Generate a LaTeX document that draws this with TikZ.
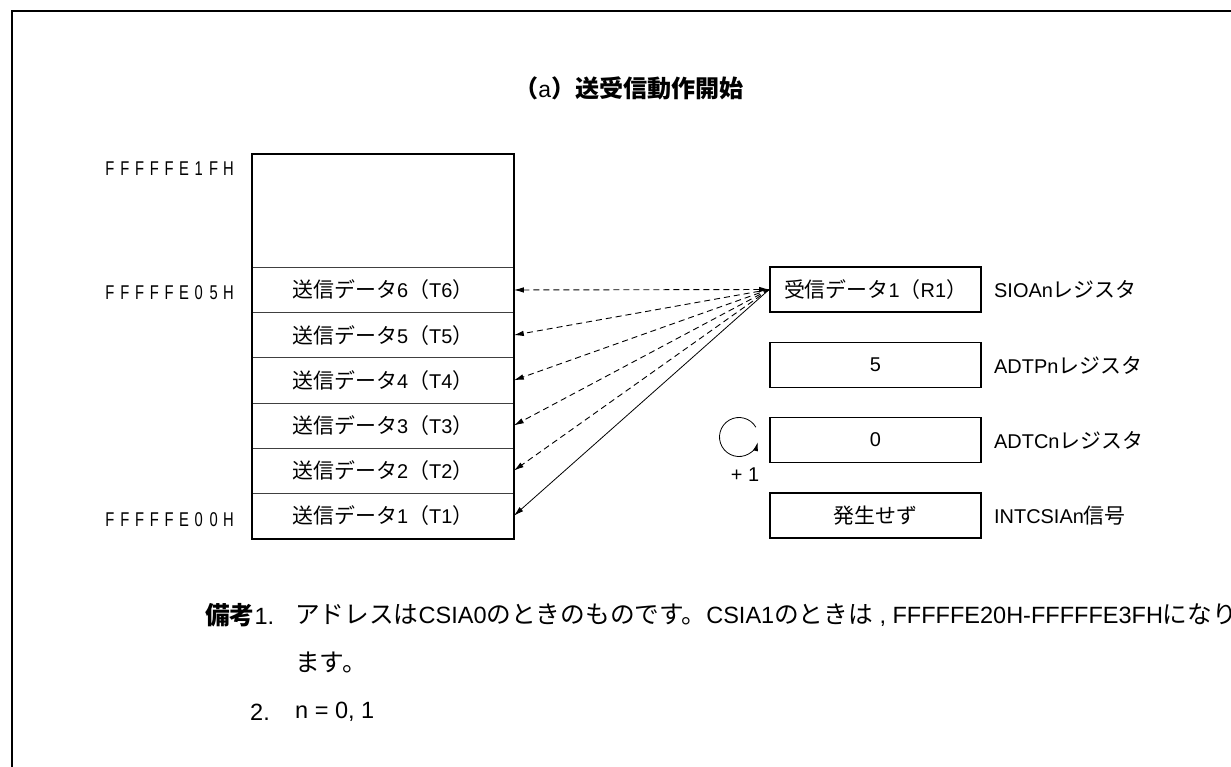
\documentclass[tikz,border=0pt]{standalone}
\usepackage{fontspec}
\usepackage{graphicx}
\setmainfont{Liberation Sans}
\newfontfamily\jp{Noto Sans CJK JP}[Scale=1.05]
\usetikzlibrary{arrows.meta}
\newcommand\J[1]{{\jp #1}}
\makeatletter
\newcommand\addrlbl[1]{\@tfor\x:=#1\do{\makebox[14.8bp]{\scalebox{0.74}[1]{\x}}}}
\makeatother
\begin{document}
\begin{tikzpicture}[x=1bp,y=-1bp,
  every node/.style={inner sep=0pt, font=\fontsize{20}{24}\selectfont},
  membox/.style={draw=black!75, line width=0.8bp, minimum width=261bp, minimum height=45.17bp, anchor=north west},
  regbox/.style={draw, line width=1.6bp, minimum width=211bp, minimum height=45bp},
  lbl/.style={anchor=west},
  addr/.style={anchor=east, font=\fontsize{20}{24}\selectfont},
  note/.style={anchor=west, font=\fontsize{23.6}{28}\selectfont},
  dat/.style={-{Latex[length=10bp,width=5.5bp]}, line width=0.9bp, dash pattern=on 6bp off 4bp},
  cur/.style={-{Latex[length=10bp,width=5.5bp]}, line width=0.8bp},
]
\useasboundingbox (0,0) rectangle (1231,767);
\draw[line width=1.6bp] (12,790) -- (12,11) -- (1250,11);
% title
\node (title) at (629,88) {\fontsize{23}{27}\selectfont\J{\bfseries （}a\J{\bfseries ）送受信動作開始}};
% memory
\node[membox, minimum height=113bp] (mtop) at (252,154) {};
\foreach \i/\y in {6/267,5/312.17,4/357.33,3/402.5,2/447.67,1/492.83}{
  \node[membox] (m\i) at (252,\y) {\J{送信データ}\i\J{（}T\i\J{）}};
}
\draw[line width=1.6bp] (mtop.north west) rectangle (m1.south east);
% addresses
\node[addr] (a1) at (236,169) {\addrlbl{FFFFFE1FH}};
\node[addr] (a2) at (236,293) {\addrlbl{FFFFFE05H}};
\node[addr] (a3) at (236,520) {\addrlbl{FFFFFE00H}};
% registers
\node[regbox] (r1) at (875.5,289.5) {\J{受信データ}1\J{（}R1\J{）}};
\node[regbox] (r2) at (875.5,365) {5};
\node[regbox] (r3) at (875.5,440) {0};
\node[regbox] (r4) at (875.5,515.5) {\J{発生せず}};
\node[lbl] (l1) at (994,289.5) {SIOAn\J{レジスタ}};
\node[lbl] (l2) at (994,365) {ADTPn\J{レジスタ}};
\node[lbl] (l3) at (994,440) {ADTCn\J{レジスタ}};
\node[lbl] (l4) at (994,515.5) {INTCSIAn\J{信号}};
% transfer arrows
\draw[dat, {Latex[length=10bp,width=5.5bp]}-{Latex[length=10bp,width=5.5bp]}] (m6.east) -- (r1.west);
\foreach \i in {5,4,3,2}{ \draw[dat] (r1.west) -- (m\i.east); }
\draw[cur] (r1.west) -- (m1.east);
% increment
\coordinate (cc) at (739,437);
\draw[line width=0.8bp, -{Latex[length=9bp,width=5bp]}] (cc) ++(-30:19.5) arc[start angle=-30, end angle=-345, radius=19.5];
\node (inc) at (745,475) {+ 1};
% notes
\node[note] (n1h) at (205,615) {\J{\bfseries 備考}1.};
\node[note] (n1) at (295,615) {\J{アドレスは}CSIA0\J{のときのものです。}CSIA1\J{のときは}\ ,\ FFFFFE20H-FFFFFE3FH\J{になり}};
\node[note] (n1b) at (295,662) {\J{ます。}};
\node[note] (n2h) at (250,712) {2.};
\node[note] (n2) at (295,712) {n = 0, 1};
\end{tikzpicture}
\end{document}
